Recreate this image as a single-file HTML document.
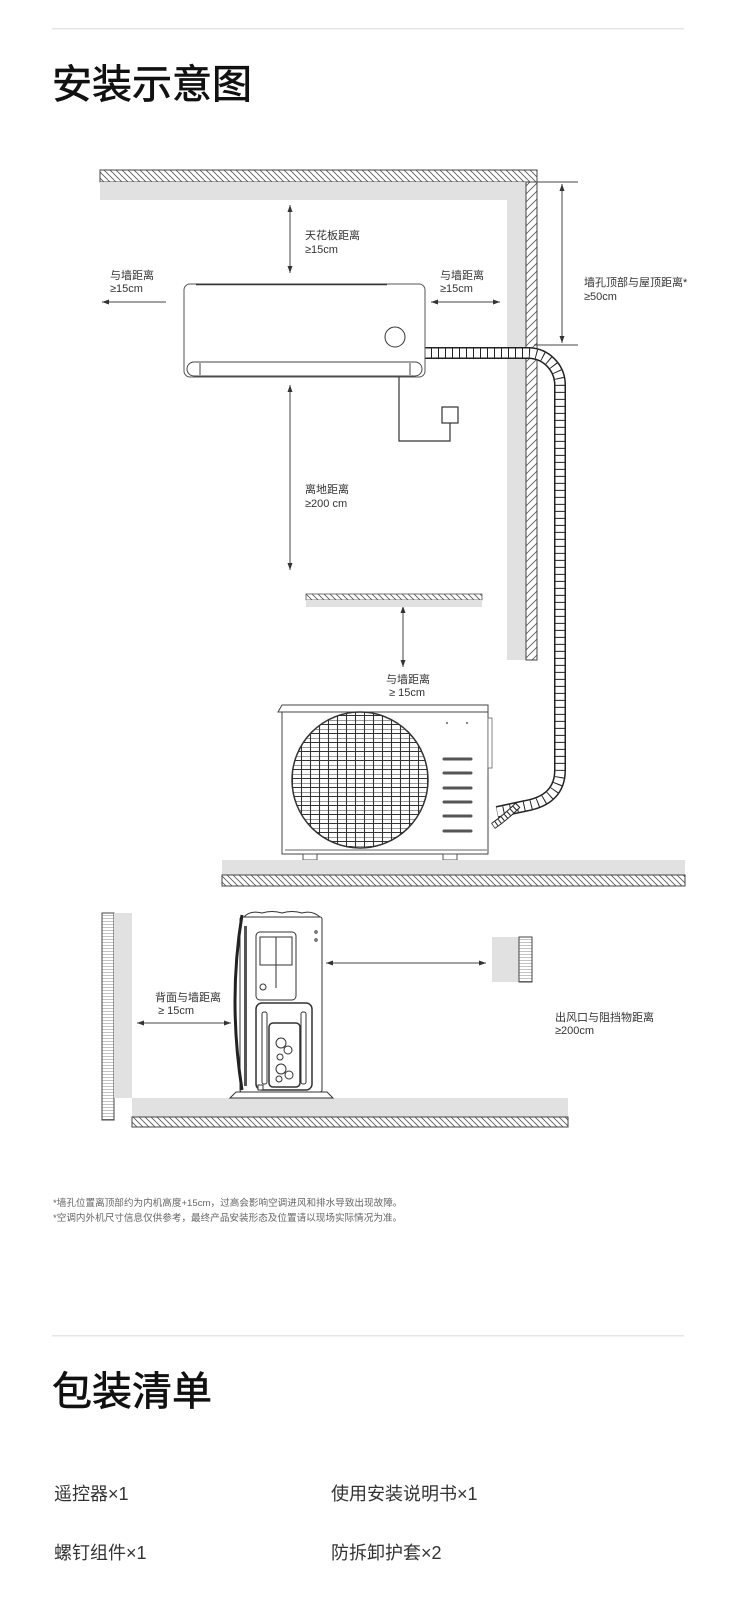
<!DOCTYPE html>
<html><head><meta charset="utf-8"><style>
html,body{margin:0;padding:0;background:#fff;}
body{width:750px;height:1600px;overflow:hidden;position:relative;font-family:"Liberation Sans","Noto Sans CJK SC",sans-serif;}
svg{position:absolute;left:0;top:0;}
</style></head><body>
<svg width="750" height="1600" viewBox="0 0 750 1600" xmlns="http://www.w3.org/2000/svg" font-family="Liberation Sans, Noto Sans CJK SC, sans-serif">
<defs>
<pattern id="hb" width="6" height="6" patternUnits="userSpaceOnUse"><rect width="6" height="6" fill="#fff"/><path d="M0 0L6 6M-3 3L3 9M3 -3L9 3" stroke="#555" stroke-width="0.8"/></pattern>
<pattern id="hf" width="8" height="8" patternUnits="userSpaceOnUse"><rect width="8" height="8" fill="#fff"/><path d="M0 8L8 0M-4 4L4 -4M4 12L12 4" stroke="#555" stroke-width="0.8"/></pattern>
<pattern id="hh" width="3" height="3" patternUnits="userSpaceOnUse"><rect width="3" height="3" fill="#fff"/><path d="M0 0H3" stroke="#666" stroke-width="0.8"/></pattern>
<pattern id="grid" width="9" height="9" patternUnits="userSpaceOnUse"><path d="M0 0H9M0 4.5H9M4.5 0V9" stroke="#333" stroke-width="1.1" fill="none"/></pattern>
<marker id="a" markerWidth="8" markerHeight="8" refX="7" refY="4" orient="auto-start-reverse" markerUnits="userSpaceOnUse"><path d="M0 1.5L7 4L0 6.5z" fill="#333"/></marker>
<clipPath id="fan"><circle cx="360" cy="780" r="68"/></clipPath>
</defs>

<rect x="52" y="28" width="632" height="1.5" fill="#e6e6e6"/>
<text x="52" y="98" font-size="40" fill="#111" stroke="#111" stroke-width="0.7">安装示意图</text>

<rect x="100" y="170" width="437" height="12" fill="url(#hb)" stroke="#444" stroke-width="1"/>
<rect x="100" y="182" width="407" height="18" fill="#e1e1e1"/>
<rect x="507" y="182" width="19" height="478" fill="#e1e1e1"/>
<rect x="526" y="182" width="11" height="478" fill="url(#hf)" stroke="#444" stroke-width="1"/>

<g stroke="#444" stroke-width="1" fill="none">
<line x1="290" y1="205" x2="290" y2="273" marker-start="url(#a)" marker-end="url(#a)"/>
<line x1="166" y1="302" x2="102" y2="302" marker-end="url(#a)"/>
<line x1="431" y1="302" x2="500" y2="302" marker-start="url(#a)" marker-end="url(#a)"/>
<line x1="562" y1="184" x2="562" y2="343" marker-start="url(#a)" marker-end="url(#a)"/>
<line x1="537" y1="182" x2="578" y2="182"/>
<line x1="534" y1="345" x2="578" y2="345"/>
<line x1="290" y1="385" x2="290" y2="570" marker-start="url(#a)" marker-end="url(#a)"/>
<line x1="403" y1="606" x2="403" y2="667" marker-start="url(#a)" marker-end="url(#a)"/>
<line x1="137" y1="1023" x2="231" y2="1023" marker-start="url(#a)" marker-end="url(#a)"/>
<line x1="326" y1="963" x2="486" y2="963" marker-start="url(#a)" marker-end="url(#a)"/>
</g>

<g font-size="11" fill="#333">
<text x="305" y="239">天花板距离</text><text x="305" y="253">≥15cm</text>
<text x="110" y="279">与墙距离</text><text x="110" y="292">≥15cm</text>
<text x="440" y="279">与墙距离</text><text x="440" y="292">≥15cm</text>
<text x="584" y="286">墙孔顶部与屋顶距离*</text><text x="584" y="300">≥50cm</text>
<text x="305" y="493">离地距离</text><text x="305" y="507">≥200 cm</text>
<text x="386" y="683">与墙距离</text><text x="389" y="696">≥ 15cm</text>
<text x="155" y="1001">背面与墙距离</text><text x="158" y="1014">≥ 15cm</text>
<text x="555" y="1021">出风口与阻挡物距离</text><text x="555" y="1034">≥200cm</text>
</g>

<g fill="none" stroke-linejoin="round">
<path d="M424 353H528A32 32 0 0 1 560 385V770Q560 800 525 806L497 812" stroke="#222" stroke-width="12"/>
<path d="M424 353H528A32 32 0 0 1 560 385V770Q560 800 525 806L497 812" stroke="#fff" stroke-width="9"/>
<path d="M424 353H528A32 32 0 0 1 560 385V770Q560 800 525 806L497 812" stroke="#222" stroke-width="9" stroke-dasharray="1 6"/>
<path d="M518 805Q505 818 493 826" stroke="#222" stroke-width="7"/>
<path d="M518 805Q505 818 493 826" stroke="#fff" stroke-width="5"/>
<path d="M518 805Q505 818 493 826" stroke="#222" stroke-width="5" stroke-dasharray="1 3"/>
</g>

<rect x="184" y="284" width="241" height="93" rx="6" fill="#fff" stroke="#555" stroke-width="1"/>
<line x1="196" y1="284.5" x2="387" y2="284.5" stroke="#333" stroke-width="1.5"/>
<circle cx="395" cy="337" r="10" fill="#fff" stroke="#333" stroke-width="1"/>
<rect x="187" y="362" width="235" height="14" rx="7" fill="#fff" stroke="#444" stroke-width="1"/>
<line x1="200" y1="363" x2="200" y2="375" stroke="#444"/>
<line x1="410" y1="363" x2="410" y2="375" stroke="#444"/>
<path d="M399 377V441H450V423" fill="none" stroke="#333" stroke-width="1.2"/>
<rect x="442" y="407" width="16" height="16" fill="#fff" stroke="#333" stroke-width="1.2"/>

<rect x="306" y="594" width="176" height="6" fill="url(#hb)" stroke="#555" stroke-width="0.8"/>
<rect x="306" y="600" width="176" height="7" fill="#e1e1e1"/>

<rect x="282" y="706" width="206" height="148" fill="#fff" stroke="#444" stroke-width="1"/>
<path d="M278 712L282 705H488V712Z" fill="#fff" stroke="#444" stroke-width="1"/>
<rect x="488" y="718" width="4" height="50" fill="#fff" stroke="#666" stroke-width="0.8"/>
<g clip-path="url(#fan)"><rect x="290" y="710" width="140" height="140" fill="url(#grid)"/></g>
<circle cx="360" cy="780" r="68" fill="none" stroke="#333" stroke-width="1.5"/>
<g stroke="#555" stroke-width="3" stroke-linecap="round">
<line x1="444" y1="759" x2="471" y2="759"/><line x1="444" y1="773" x2="471" y2="773"/>
<line x1="444" y1="788" x2="471" y2="788"/><line x1="444" y1="802" x2="471" y2="802"/>
<line x1="444" y1="816" x2="471" y2="816"/><line x1="444" y1="831" x2="471" y2="831"/>
</g>
<circle cx="447" cy="723" r="0.9" fill="#333"/><circle cx="467" cy="723" r="0.9" fill="#333"/>
<line x1="285" y1="850" x2="487" y2="850" stroke="#666"/>
<rect x="303" y="854" width="14" height="6" fill="#fff" stroke="#555"/>
<rect x="443" y="854" width="14" height="6" fill="#fff" stroke="#555"/>

<rect x="222" y="860" width="463" height="15" fill="#e1e1e1"/>
<rect x="222" y="875" width="463" height="11" fill="url(#hb)" stroke="#444" stroke-width="1"/>

<rect x="102" y="913" width="12" height="207" fill="url(#hh)" stroke="#444" stroke-width="1"/>
<rect x="114" y="913" width="18" height="185" fill="#e1e1e1"/>
<rect x="132" y="1098" width="436" height="19" fill="#e1e1e1"/>
<rect x="132" y="1117" width="436" height="10" fill="url(#hb)" stroke="#444" stroke-width="1"/>
<rect x="492" y="937" width="27" height="45" fill="#e1e1e1"/>
<rect x="519" y="937" width="13" height="45" fill="url(#hh)" stroke="#444" stroke-width="1"/>

<g fill="#fff" stroke="#333" stroke-width="1">
<path d="M230 1098L236 1092H327L333 1098Z"/>
<rect x="240" y="917" width="82" height="175" rx="2"/>
<path d="M242 915Q228 1000 242 1090" fill="none" stroke="#222" stroke-width="3"/>
<rect x="244" y="926" width="3" height="160" fill="#555" stroke="none"/>
<path d="M244 917Q250 910 262 913Q272 910 282 913Q292 910 302 913Q312 910 320 917" fill="none"/>
<rect x="256" y="932" width="40" height="68" rx="4"/>
<rect x="260" y="937" width="32" height="28"/>
<line x1="276" y1="937" x2="276" y2="988"/>
<circle cx="263" cy="987" r="3"/>
<rect x="256" y="1003" width="56" height="87" rx="6" stroke-width="1.5"/>
<rect x="262" y="1012" width="5" height="72" rx="2"/>
<rect x="301" y="1012" width="5" height="72" rx="2"/>
<rect x="269" y="1023" width="31" height="64" rx="4" stroke-width="1.5"/>
<circle cx="281" cy="1043" r="5"/><circle cx="288" cy="1050" r="4"/><circle cx="280" cy="1057" r="3"/>
<circle cx="281" cy="1069" r="5"/><circle cx="289" cy="1075" r="4"/><circle cx="279" cy="1079" r="3"/>
<rect x="258" y="1085" width="5" height="5"/>
<circle cx="316" cy="932" r="1.2"/><circle cx="316" cy="940" r="1.2"/>
</g>

<g font-size="9.6" fill="#666">
<text x="53" y="1206">*墙孔位置离顶部约为内机高度+15cm，过高会影响空调进风和排水导致出现故障。</text>
<text x="53" y="1221">*空调内外机尺寸信息仅供参考，最终产品安装形态及位置请以现场实际情况为准。</text>
</g>

<rect x="52" y="1335" width="632" height="1.5" fill="#e6e6e6"/>
<text x="52" y="1405" font-size="40" fill="#111" stroke="#111" stroke-width="0.7">包装清单</text>
<g font-size="18" fill="#333">
<text x="54" y="1500">遥控器×1</text>
<text x="331" y="1500">使用安装说明书×1</text>
<text x="54" y="1559">螺钉组件×1</text>
<text x="331" y="1559">防拆卸护套×2</text>
</g>
</svg>
</body></html>
